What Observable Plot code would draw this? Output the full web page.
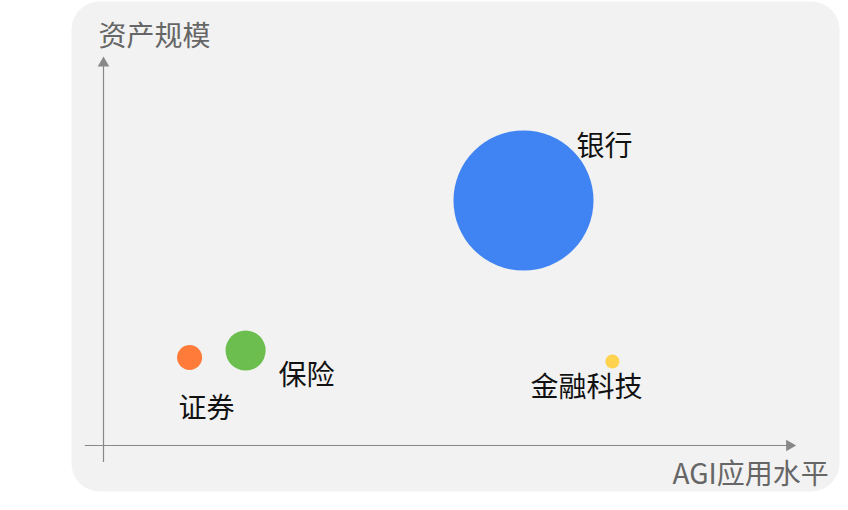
<!DOCTYPE html>
<html>
<head>
<meta charset="utf-8">
<script src="https://cdn.jsdelivr.net/npm/d3@7"></script>
<script src="https://cdn.jsdelivr.net/npm/@observablehq/plot@0.6"></script>
<style>
  html, body { margin: 0; padding: 0; background: #fff; }
  svg { display: block; }
</style>
</head>
<body>
<div id="chart"></div>
<script>
// ---- data ----
const sectors   = ["银行", "证券", "保险", "金融科技"];
const agiLevel  = [60, 12.3, 20.3, 72.7];   // x: AGI应用水平
const assetSize = [61.25, 22, 23.75, 21];    // y: 资产规模
const bubble    = [100, 3.2, 8.2, 1];        // bubble magnitude
const colors    = ["#4083f2", "#ff7b3a", "#6cbf4e", "#ffd24f"];
const xTitle = "AGI应用水平";
const yTitle = "资产规模";

// ---- layout ----
const labelOffset = {
  "银行": [81, -53],
  "证券": [17, 52],
  "保险": [61, 26],
  "金融科技": [-26, 27]
};
const font = "'Noto Sans CJK SC', 'Noto Sans', sans-serif";

const rows = sectors.map((s, i) => ({
  name: s, x: agiLevel[i], y: assetSize[i], r: bubble[i], color: colors[i],
  dx: labelOffset[s][0], dy: labelOffset[s][1]
}));

const axisGray = "#888";

const plot = Plot.plot({
  width: 848,
  height: 510,
  marginLeft: 71,
  marginRight: 9,
  marginTop: 1,
  marginBottom: 19,
  style: { fontFamily: font, background: "#fff", overflow: "visible" },
  x: { domain: [0, 100], range: [103, 803], axis: null },
  y: { domain: [0, 100], range: [445, 45], axis: null },
  r: { type: "sqrt", domain: [0, 100], range: [0, 70] },
  marks: [
    Plot.frame({ fill: "#f2f2f2", stroke: "none", rx: 28 }),
    // axes
    Plot.ruleX([0], { y1: -4.25, y2: 96, stroke: axisGray, strokeWidth: 1.2 }),
    Plot.ruleY([0], { x1: -2.6, x2: 98, stroke: axisGray, strokeWidth: 1.2 }),
    Plot.dot([{ x: 0, y: 95.6 }], { x: "x", y: "y", symbol: "triangle", r: 4.3, fill: axisGray, stroke: "none" }),
    Plot.dot([{ x: 98, y: 0 }], { x: "x", y: "y", symbol: "triangle", r: 4.3, fill: axisGray, stroke: "none", rotate: 90 }),
    // bubbles
    Plot.dot(rows, { x: "x", y: "y", r: "r", fill: "color", stroke: "none" }),
    // labels
    ...rows.map(d => Plot.text([d], {
      x: "x", y: "y", text: "name", dx: d.dx, dy: d.dy,
      fill: "#111", fontSize: 28, fontFamily: font
    })),
    // axis titles
    Plot.text([yTitle], { x: 0, y: 100, text: d => d, dx: -5, dy: -8,
      textAnchor: "start", fill: "#666", fontSize: 28, fontFamily: font }),
    Plot.text([xTitle], { x: 103.6, y: 0, text: d => d, dy: 30,
      textAnchor: "end", fill: "#666", fontSize: 28, fontFamily: font })
  ]
});
document.getElementById("chart").appendChild(plot);
</script>
</body>
</html>
